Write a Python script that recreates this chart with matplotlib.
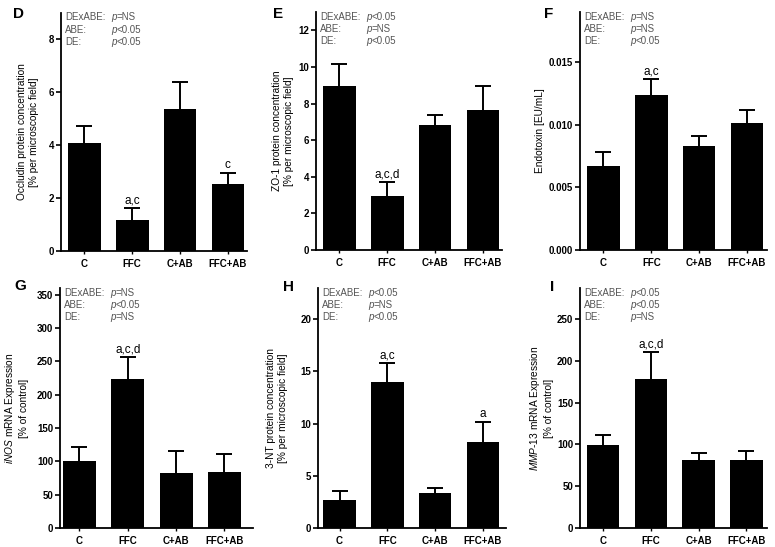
import matplotlib
matplotlib.use("Agg")
import matplotlib.pyplot as plt
import numpy as np

plt.rcParams['font.family'] = ['Liberation Sans', 'DejaVu Sans']
plt.rcParams['mathtext.fontset'] = 'custom'
plt.rcParams['mathtext.rm'] = 'Liberation Sans'
plt.rcParams['mathtext.it'] = 'Liberation Sans:italic'
plt.rcParams['mathtext.bf'] = 'Liberation Sans:bold'

categories = ["C", "FFC", "C+AB", "FFC+AB"]

occludin_mean = [4.09, 1.19, 5.38, 2.52]
occludin_sem = [0.62, 0.44, 1.00, 0.44]
occludin_sig = ["", "a,c", "", "c"]
occludin_stats = ["p=NS", "p<0.05", "p<0.05"]

zo1_mean = [8.96, 2.95, 6.82, 7.65]
zo1_sem = [1.22, 0.78, 0.58, 1.30]
zo1_sig = ["", "a,c,d", "", ""]
zo1_stats = ["p<0.05", "p=NS", "p<0.05"]

endotoxin_mean = [0.00674, 0.01239, 0.00834, 0.01012]
endotoxin_sem = [0.00106, 0.00128, 0.00074, 0.00109]
endotoxin_sig = ["", "a,c", "", ""]
endotoxin_stats = ["p=NS", "p=NS", "p<0.05"]

inos_mean = [100, 223, 83, 84]
inos_sem = [22, 34, 32, 27]
inos_sig = ["", "a,c,d", "", ""]
inos_stats = ["p=NS", "p<0.05", "p=NS"]

nt3_mean = [2.72, 14.0, 3.37, 8.24]
nt3_sem = [0.87, 1.77, 0.48, 1.95]
nt3_sig = ["", "a,c", "", "a"]
nt3_stats = ["p<0.05", "p=NS", "p<0.05"]

mmp13_mean = [99, 178, 81, 81]
mmp13_sem = [12, 32.5, 9, 11.5]
mmp13_sig = ["", "a,c,d", "", ""]
mmp13_stats = ["p<0.05", "p<0.05", "p=NS"]

stat_names = ["DExABE:", "ABE:", "DE:"]

W, H = 775, 547
fig = plt.figure(figsize=(W / 100, H / 100), dpi=100)

panels = [
    dict(letter="D", mean=occludin_mean, sem=occludin_sem, sig=occludin_sig, stats=occludin_stats,
         box=(61, 247, 13, 251), ylim=(0, 9), yticks=[0, 2, 4, 6, 8], yfmt="{:g}",
         xlim=(-0.49, 3.4), ylabel="Occludin protein concentration\n[% per microscopic field]",
         labx=28, letterpos=(18, 14)),
    dict(letter="E", mean=zo1_mean, sem=zo1_sem, sig=zo1_sig, stats=zo1_stats,
         box=(316, 502, 12, 250), ylim=(0, 13), yticks=[0, 2, 4, 6, 8, 10, 12], yfmt="{:g}",
         xlim=(-0.49, 3.4), ylabel="ZO-1 protein concentration\n[% per microscopic field]",
         labx=283, letterpos=(278, 14)),
    dict(letter="F", mean=endotoxin_mean, sem=endotoxin_sem, sig=endotoxin_sig, stats=endotoxin_stats,
         box=(580, 767, 12, 250), ylim=(0, 0.019), yticks=[0, 0.005, 0.010, 0.015], yfmt="{:.3f}",
         xlim=(-0.49, 3.42), ylabel="Endotoxin [EU/mL]",
         labx=540, letterpos=(549, 14)),
    dict(letter="G", mean=inos_mean, sem=inos_sem, sig=inos_sig, stats=inos_stats,
         box=(60, 253, 288, 528), ylim=(0, 360), yticks=[0, 50, 100, 150, 200, 250, 300, 350], yfmt="{:g}",
         xlim=(-0.4, 3.59), ylabel="$\\mathit{iNOS}$ mRNA Expression\n[% of control]",
         labx=16, letterpos=(20, 286)),
    dict(letter="H", mean=nt3_mean, sem=nt3_sem, sig=nt3_sig, stats=nt3_stats,
         box=(318, 506, 288, 528), ylim=(0, 23), yticks=[0, 5, 10, 15, 20], yfmt="{:g}",
         xlim=(-0.45, 3.48), ylabel="3-NT protein concentration\n[% per microscopic field]",
         labx=277, letterpos=(288, 287)),
    dict(letter="I", mean=mmp13_mean, sem=mmp13_sem, sig=mmp13_sig, stats=mmp13_stats,
         box=(580, 767, 288, 528), ylim=(0, 287), yticks=[0, 50, 100, 150, 200, 250], yfmt="{:g}",
         xlim=(-0.48, 3.43), ylabel="$\\mathit{MMP}$-$\\mathit{13}$ mRNA Expression\n[% of control]",
         labx=541, letterpos=(552, 287)),
]

x = np.arange(len(categories))
for p in panels:
    l, r, t, b = p["box"]
    ax = fig.add_axes([l / W, 1 - b / H, (r - l) / W, (b - t) / H])
    mean = np.array(p["mean"])
    sem = np.array(p["sem"])
    ax.bar(x, mean, width=0.68, color="black", zorder=2)
    eb = ax.errorbar(x, mean, yerr=[np.zeros_like(sem), sem], fmt="none", ecolor="black",
                     elinewidth=1.4, capsize=5.8, capthick=1.4, zorder=1)
    caps = eb[1]
    if len(caps) == 2:
        caps[0].set_visible(False)
    for xi, m, s, lab in zip(x, mean, sem, p["sig"]):
        if lab:
            ax.annotate(lab, (xi, m + s), xytext=(0, 1.5), textcoords="offset pixels",
                        ha="center", va="bottom", fontsize=8.5)
    ax.set_xlim(*p["xlim"])
    ax.set_ylim(*p["ylim"])
    ax.set_yticks(p["yticks"])
    ax.set_yticklabels([p["yfmt"].format(v) for v in p["yticks"]], fontsize=7, fontweight="bold")
    ax.set_xticks(x)
    ax.set_xticklabels(categories, fontsize=7, fontweight="bold")
    for s in ["top", "right"]:
        ax.spines[s].set_visible(False)
    for s in ["left", "bottom"]:
        ax.spines[s].set_linewidth(1.3)
    ax.tick_params(axis="y", length=3.5, width=1.2, pad=1.5)
    ax.tick_params(axis="x", length=2.5, width=1.0, pad=3)
    # stats block
    for i, (nm, st) in enumerate(zip(stat_names, p["stats"])):
        yoff = -7.5 - 12.2 * i
        kw = dict(xycoords="axes fraction", textcoords="offset pixels", ha="left",
                  va="baseline", fontsize=7, color="#555555")
        ax.annotate(nm, (0, 1), xytext=(4, yoff), **kw)
        ax.annotate("p", (0, 1), xytext=(50, yoff), fontstyle="italic", **kw)
        ax.annotate(st[1:], (0, 1), xytext=(55.5, yoff), **kw)
    fig.text(p["labx"] / W, 1 - ((t + b) / 2) / H, p["ylabel"], rotation=90, ha="center",
             va="center", multialignment="center", fontsize=7.3)
    lx, ly = p["letterpos"]
    fig.text(lx / W, 1 - ly / H, p["letter"], ha="center", va="center", fontsize=11, fontweight="bold")

fig.savefig("out.png", dpi=100)
